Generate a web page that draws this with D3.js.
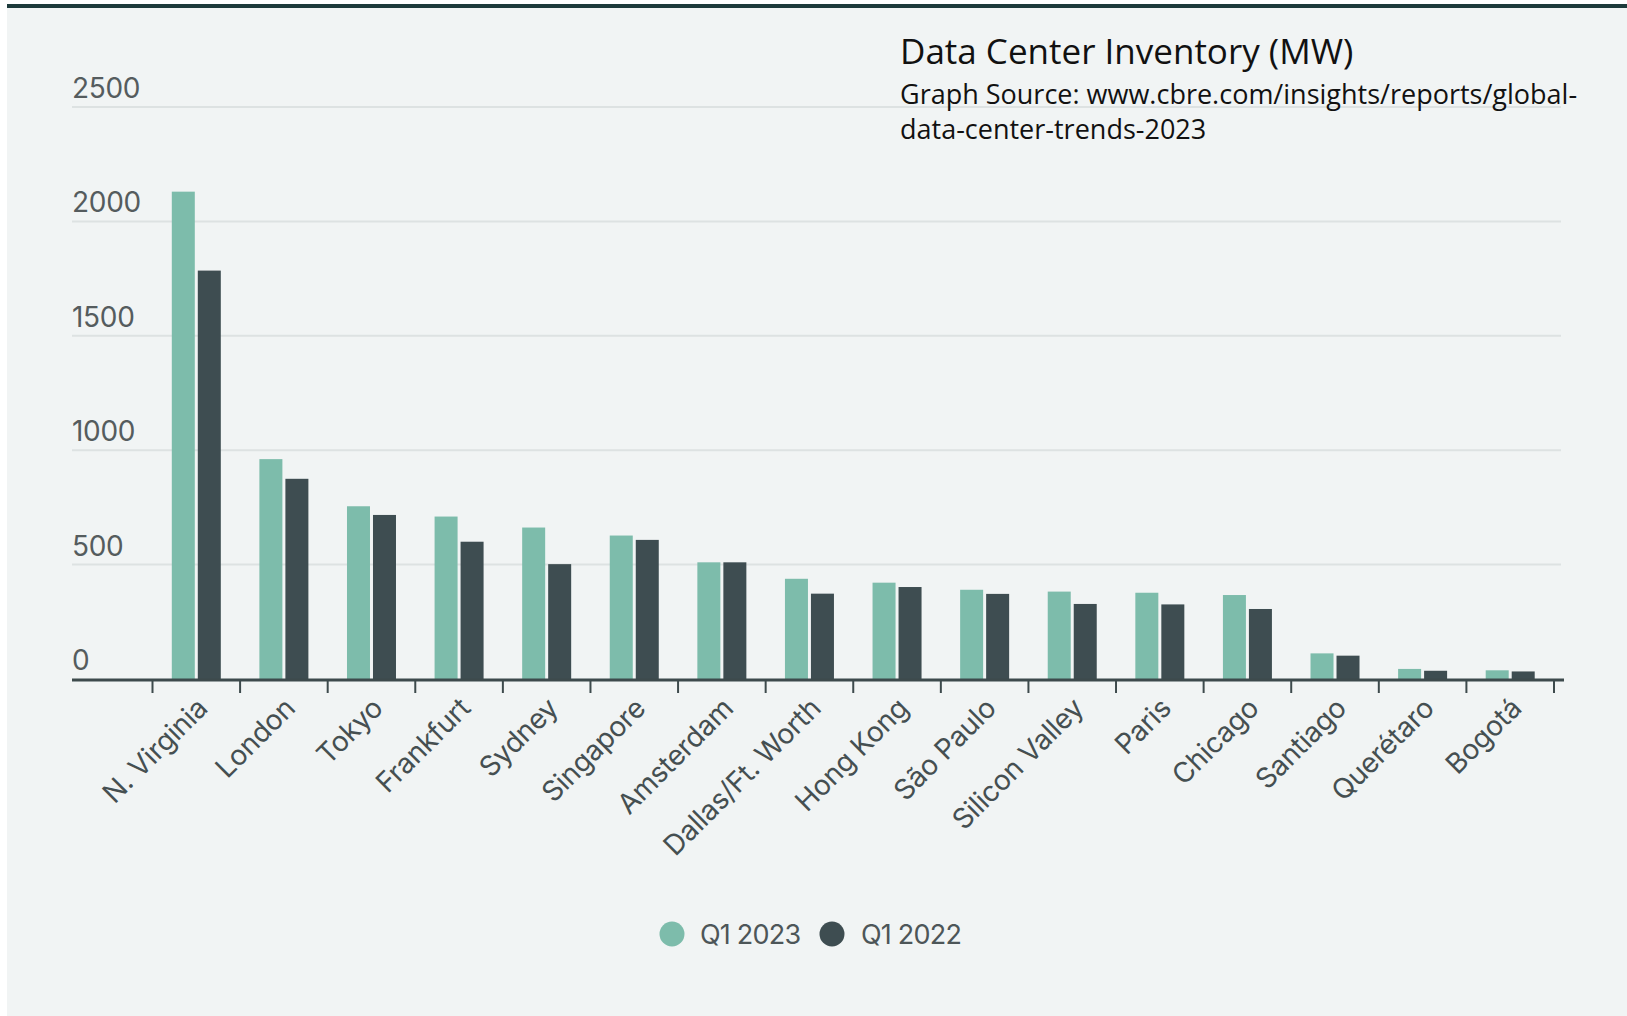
<!DOCTYPE html>
<html>
<head>
<meta charset="utf-8">
<script src="https://cdn.jsdelivr.net/npm/d3@7"></script>
<style>
  html, body { margin: 0; padding: 0; background: #ffffff; }
  svg { display: block; }
</style>
</head>
<body>
<svg id="chart" width="1627" height="1016"></svg>
<script>
const categories = ["N. Virginia", "London", "Tokyo", "Frankfurt", "Sydney", "Singapore", "Amsterdam",
  "Dallas/Ft. Worth", "Hong Kong", "São Paulo", "Silicon Valley", "Paris", "Chicago", "Santiago",
  "Querétaro", "Bogotá"];
const seriesNames = ["Q1 2023", "Q1 2022"];
const q1_2023 = [2130, 961, 755, 710, 662, 627, 510, 438, 421, 390, 382, 377, 367, 112, 44, 38];
const q1_2022 = [1785, 875, 717, 600, 502, 608, 510, 373, 402, 372, 328, 326, 306, 102, 36, 33];
const yTicks = [0, 500, 1000, 1500, 2000, 2500];
const titleText = "Data Center Inventory (MW)";
const sourceLines = ["Graph Source: www.cbre.com/insights/reports/global-", "data-center-trends-2023"];

const colors = ["#7dbcab", "#3e4d51"];
const svg = d3.select("#chart");
const W = 1627, H = 1016;

// card background
svg.append("rect").attr("x", 7).attr("y", 5).attr("width", W - 7).attr("height", H - 5).attr("fill", "#f1f4f4");
svg.append("rect").attr("x", 7).attr("y", 4).attr("width", W - 7).attr("height", 4).attr("fill", "#1d3a3b");

const x = d3.scaleBand().domain(categories).range([152.5, 1554]).paddingInner(0).paddingOuter(0);
const y = d3.scaleLinear().domain([0, 2500]).range([679, 107]);
const barW = 23, gap = 3;

// gridlines
svg.append("g").selectAll("line").data(yTicks.filter(d => d > 0)).join("line")
  .attr("x1", 72).attr("x2", 1561)
  .attr("y1", d => y(d)).attr("y2", d => y(d))
  .attr("stroke", "#dde2e2").attr("stroke-width", 2);

// y tick labels
svg.append("g").selectAll("text").data(yTicks).join("text")
  .attr("x", 72).attr("y", d => y(d) - 9)
  .attr("font-family", "Inter, 'Open Sans', sans-serif")
  .attr("font-size", 28).attr("fill", "#555c5e").attr("letter-spacing", "-0.3")
  .text(d => d);

// bars
const series = [q1_2023, q1_2022];
series.forEach((vals, si) => {
  svg.append("g").selectAll("rect").data(vals).join("rect")
    .attr("x", (d, i) => x(categories[i]) + x.bandwidth() / 2 - barW - gap / 2 + si * (barW + gap))
    .attr("y", d => y(d))
    .attr("width", barW)
    .attr("height", d => y(0) - y(d))
    .attr("fill", colors[si]);
});

// x axis
const axisG = svg.append("g").attr("transform", `translate(0,${y(0)})`);
axisG.append("line").attr("x1", 72).attr("x2", 1564).attr("y1", 1).attr("y2", 1)
  .attr("stroke", "#3d4a4c").attr("stroke-width", 3);
const tickPos = categories.map(c => x(c)).concat([x(categories[categories.length - 1]) + x.bandwidth()]);
axisG.selectAll("line.tick").data(tickPos).join("line").attr("class", "tick")
  .attr("x1", d => d).attr("x2", d => d).attr("y1", 1).attr("y2", 14)
  .attr("stroke", "#3d4a4c").attr("stroke-width", 2);

// category labels
svg.append("g").selectAll("text").data(categories).join("text")
  .attr("transform", d => `translate(${x(d) + x.bandwidth() / 2 + 13},${y(0) + 31}) rotate(-45)`)
  .attr("text-anchor", "end")
  .attr("font-family", "Inter, 'Open Sans', sans-serif")
  .attr("font-size", 28).attr("fill", "#454f51").attr("letter-spacing", "-0.2")
  .text(d => d);

// legend
const leg = svg.append("g");
const legItems = [{ cx: 672, tx: 700 }, { cx: 832, tx: 861 }];
seriesNames.forEach((n, i) => {
  leg.append("circle").attr("cx", legItems[i].cx).attr("cy", 934).attr("r", 12.5).attr("fill", colors[i]);
  leg.append("text").attr("x", legItems[i].tx).attr("y", 944)
    .attr("font-family", "Inter, 'Open Sans', sans-serif")
    .attr("font-size", 27).attr("fill", "#4d5658").attr("letter-spacing", "-0.8")
    .text(n);
});

// title and source
svg.append("text").attr("x", 900).attr("y", 64)
  .attr("font-family", "'Open Sans', 'Noto Sans', sans-serif")
  .attr("font-size", 35).attr("fill", "#111").text(titleText);
sourceLines.forEach((t, i) => {
  svg.append("text").attr("x", 900).attr("y", 104 + i * 35)
    .attr("font-family", "'Open Sans', 'Noto Sans', sans-serif")
    .attr("font-size", 27).attr("fill", "#111").text(t);
});
</script>
</body>
</html>
